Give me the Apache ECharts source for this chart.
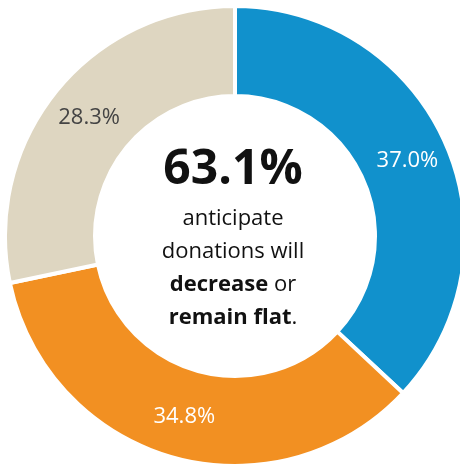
<!DOCTYPE html>
<html>
<head>
<meta charset="utf-8">
<script src="https://cdn.jsdelivr.net/npm/echarts@6/dist/echarts.min.js"></script>
<style>html,body{margin:0;padding:0;background:#fff;}#c{width:460px;height:466px;}</style>
</head>
<body>
<div id="c"></div>
<script>
const categories = ['Increase', 'Decrease', 'Remain flat'];
const values = [37.0, 34.8, 28.3];
const sliceColors = ['#1191CC', '#F29022', '#DED6C1'];
const labelColors = ['#ffffff', '#ffffff', '#444444'];
const headline = '63.1%';

const chart = echarts.init(document.getElementById('c'), null, {renderer: 'canvas'});
const FONT = '"Open Sans", "Noto Sans", sans-serif';
chart.setOption({
  animation: false,
  series: [{
    type: 'pie',
    center: [235, 236],
    radius: [140, 230],
    startAngle: 90,
    clockwise: true,
    avoidLabelOverlap: false,
    itemStyle: {borderColor: '#ffffff', borderWidth: 4},
    label: {
      show: true,
      position: 'inside',
      fontFamily: FONT,
      fontSize: 22,
      formatter: p => p.value.toFixed(1) + '%'
    },
    labelLine: {show: false},
    emphasis: {disabled: true},
    data: categories.map((c, i) => ({
      name: c,
      value: values[i],
      itemStyle: {color: sliceColors[i]},
      label: {color: labelColors[i]}
    }))
  }],
  graphic: [{
    type: 'text',
    x: 233,
    y: 236,
    style: {
      text: '{big|' + headline + '}\n{n|anticipate}\n{n|donations will}\n{b|decrease}{n| or}\n{b|remain flat}{n|.}',
      align: 'center',
      verticalAlign: 'middle',
      fill: '#111',
      rich: {
        big: {fontFamily: FONT, fontWeight: 'bold', fontSize: 48, lineHeight: 64, fill: '#111'},
        n: {fontFamily: FONT, fontSize: 22, lineHeight: 33, fill: '#111'},
        b: {fontFamily: FONT, fontWeight: 'bold', fontSize: 22, lineHeight: 33, fill: '#111'}
      }
    }
  }]
});
</script>
</body>
</html>
